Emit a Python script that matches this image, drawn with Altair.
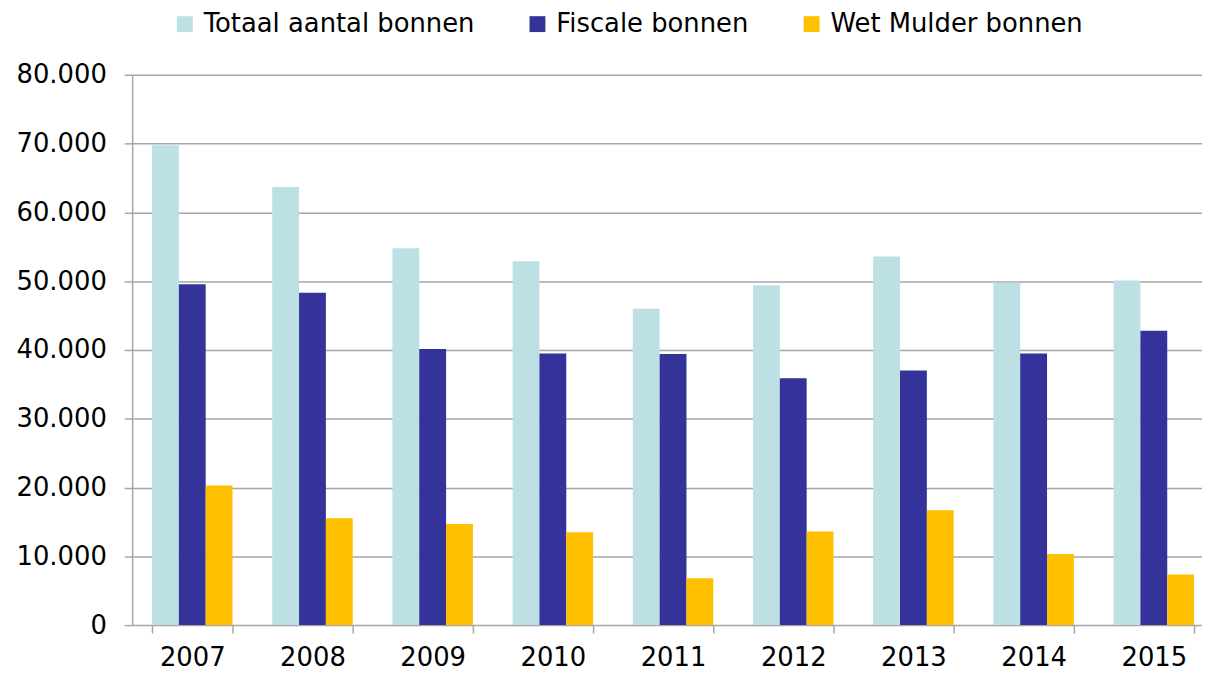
import altair as alt
import pandas as pd

years = ["2007", "2008", "2009", "2010", "2011", "2012", "2013", "2014", "2015"]
series = ["Totaal aantal bonnen", "Fiscale bonnen", "Wet Mulder bonnen"]
totaal = [69750, 63700, 54800, 52900, 46000, 49400, 53600, 49800, 50100]
fiscale = [49550, 48300, 40150, 39500, 39400, 35900, 37000, 39500, 42800]
mulder = [20300, 15550, 14700, 13500, 6800, 13600, 16700, 10350, 7350]
colors = ["#bce0e3", "#333399", "#ffc000"]

rows = []
for i, y in enumerate(years):
    for s, vals in zip(series, [totaal, fiscale, mulder]):
        rows.append({"jaar": y, "reeks": s, "waarde": vals[i]})
df = pd.DataFrame(rows)

font = "DejaVu Sans"

chart = alt.Chart(df).mark_bar().encode(
    x=alt.X("jaar:N", sort=years, title=None,
            scale=alt.Scale(paddingInner=0.33, paddingOuter=0.165, range=[0, 1089]),
            axis=alt.Axis(labelAngle=0, labelFontSize=26, labelFont=font,
                          labelColor="#000000", labelPadding=12,
                          tickBand="extent", tickSize=8, tickColor="#a6a6a6",
                          tickWidth=1.5, domain=False, grid=False)),
    xOffset=alt.XOffset("reeks:N", sort=series),
    y=alt.Y("waarde:Q", title=None,
            scale=alt.Scale(domain=[0, 80000], nice=False),
            axis=alt.Axis(values=list(range(0, 80001, 10000)),
                          labelExpr="replace(format(datum.value, ','), ',', '.')",
                          labelFontSize=26, labelFont=font, labelColor="#000000",
                          labelPadding=18, tickSize=8, tickColor="#a6a6a6",
                          tickWidth=1.5, domainColor="#a6a6a6", domainWidth=1.5,
                          gridColor="#a6a6a6", gridWidth=1.5)),
    color=alt.Color("reeks:N", sort=series,
                    scale=alt.Scale(domain=series, range=colors),
                    legend=alt.Legend(title=None, orient="none", direction="horizontal",
                                      legendX=40, legendY=-64,
                                      symbolType="square", symbolSize=256,
                                      symbolStrokeWidth=0, labelLimit=500,
                                      labelFontSize=26, labelFont=font,
                                      labelColor="#000000", columnPadding=50,
                                      labelOffset=6)),
).properties(
    width=1077, height=554,
    autosize=alt.AutoSizeParams(type="none"),
    padding={"left": 125, "top": 65, "right": 0, "bottom": 49}
).configure_view(stroke=None)

chart.save("out.html", embed_options={"renderer": "svg", "actions": False})
